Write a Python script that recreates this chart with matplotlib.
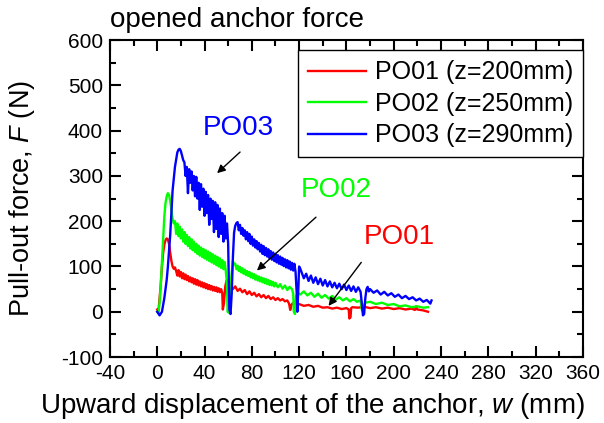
import matplotlib
matplotlib.use("Agg")
from matplotlib import pyplot as plt
from matplotlib.ticker import MultipleLocator

plt.rcParams['font.family'] = ['Liberation Sans', 'DejaVu Sans']
plt.rcParams['mathtext.fontset'] = 'custom'
plt.rcParams['mathtext.it'] = 'Liberation Sans:italic'
plt.rcParams['mathtext.rm'] = 'Liberation Sans'
plt.rcParams['axes.unicode_minus'] = False

# PO01 (z=200mm)
po01_w = [0, 1, 2, 3, 4, 5, 6, 7, 8, 9, 10, 11, 12, 13, 14, 15,
          16, 17, 18, 19, 20, 21, 22, 23, 24, 25, 26, 27, 28, 29, 30, 31, 32, 33, 34, 35,
          36, 37, 38, 39, 40, 41, 42, 43, 44, 45, 46, 47, 48, 49, 50, 51, 52, 53, 54, 55,
          55.5, 56.5, 57.5, 58.5, 60, 61,
          62, 64, 66, 68, 70, 72, 74, 76, 78, 80, 82, 84, 86, 88, 90, 92, 94, 96, 98, 100,
          102, 104, 106, 108, 110, 111.5, 112.5, 113.5, 115, 117,
          120, 124, 128, 132, 136, 140, 144, 148, 152, 156, 160, 162, 162.5, 163.5, 164, 165,
          170, 175, 180, 185, 190, 195, 200, 205, 210, 215, 218, 219, 220, 225, 229]
po01_f = [5, 0, 30, 60, 100, 130, 148, 158, 162, 160, 150, 130, 112, 100, 95, 98,
          90, 80, 92, 78, 88, 74, 85, 72, 82, 70, 79, 67, 76, 65, 74, 62, 72, 60, 70, 58,
          67, 56, 65, 54, 63, 52, 61, 50, 59, 49, 57, 47, 55, 46, 54, 44, 52, 43, 50, 42,
          5, 20, 55, 68, 70, 62,
          58, 50, 56, 46, 51, 43, 48, 39, 45, 37, 42, 34, 39, 32, 37, 30, 35, 28, 32, 26,
          30, 25, 28, 23, 25, 18, 4, 15, 20, 16,
          17, 13, 15, 11, 13, 9, 10, 7, 9, 6, 8, 5, -15, -12, 8, 10,
          9, 11, 8, 10, 7, 9, 6, 8, 5, 7, 4, 12, 5, 3, 0]

# PO02 (z=250mm)
po02_w = [0, 1, 2, 3, 4, 5, 6, 7, 8, 9, 10, 11, 12, 13, 14,
          15, 16, 17, 18, 19, 20, 21, 22, 23, 24, 25, 26, 27, 28, 29, 30, 31, 32, 33, 34,
          35, 36, 37, 38, 39, 40, 41, 42, 43, 44, 45, 46, 47, 48, 49, 50, 51, 52, 53, 54,
          55, 56, 57, 58, 59, 59.5, 60.5, 62, 64, 65,
          66, 67, 68, 69, 70, 71, 72, 73, 74, 75, 76, 77, 78, 79, 80, 81, 82, 83, 84, 85,
          86, 87, 88, 89, 90, 91, 92, 93, 94, 95, 96, 97, 98, 99, 100,
          102, 104, 106, 108, 110, 112, 114, 115, 115.5, 116.5, 117.5, 119,
          121, 124, 127, 130, 133, 136, 139, 142, 145, 148, 151, 154, 157, 160, 163, 166,
          169, 172, 173, 174, 175, 176,
          180, 185, 190, 195, 200, 205, 210, 215, 220, 225, 229]
po02_f = [0, -3, 20, 60, 110, 160, 210, 240, 255, 262, 258, 245, 225, 205, 195,
          200, 172, 195, 167, 188, 162, 182, 155, 176, 150, 170, 145, 165, 140, 160, 136, 155, 132, 150, 128,
          146, 124, 142, 121, 139, 118, 136, 115, 133, 112, 130, 109, 127, 106, 124, 103, 121, 100, 118, 97,
          114, 94, 110, 90, 60, 0, -2, 60, 112, 105,
          106, 94, 102, 90, 99, 87, 96, 84, 93, 81, 90, 79, 88, 76, 85, 74, 83, 71, 80, 69,
          78, 67, 76, 65, 74, 63, 72, 61, 70, 59, 68, 58, 66, 56, 64,
          54, 61, 51, 58, 48, 55, 50, 40, 0, -5, 35, 42,
          38, 45, 36, 42, 33, 40, 31, 37, 29, 35, 27, 32, 25, 30, 23, 28,
          22, 25, 5, 0, 15, 20,
          22, 17, 20, 15, 17, 12, 14, 10, 12, 9, 10]

# PO03 (z=290mm)
po03_w = [0, 2, 4, 6, 8, 9, 11, 13, 15, 17, 18, 19, 20, 21, 22,
          23, 24, 25, 26, 27, 28, 29, 30, 31, 32, 33, 34, 35, 36, 37, 38, 39, 40, 41, 42,
          43, 44, 45, 46, 47, 48, 49, 50, 51, 52, 53, 54, 55, 56, 57, 58, 59, 60,
          60.5, 61, 62, 63, 64, 65, 66, 67,
          68, 69, 70, 71, 72, 73, 74, 75, 76, 77, 78, 79, 80, 81, 82, 83, 84, 85, 86, 87,
          88, 89, 90, 91, 92, 93, 94, 95, 96, 97, 98, 99, 100, 101, 102, 103, 104, 105,
          106, 107, 108, 109, 110, 111, 112, 113, 114, 115, 116, 117,
          118, 118.5, 119.5, 120, 121,
          122, 124, 126, 128, 130, 132, 134, 136, 138, 140, 142, 144, 146, 148, 150, 152,
          154, 156, 158, 160, 162, 164, 166, 168, 170, 172, 173, 174, 175, 176, 177, 178, 179,
          180, 183, 186, 189, 192, 195, 198, 201, 204, 207, 210, 213, 216, 219, 222, 225,
          228, 231, 232]
po03_f = [0, -8, 0, 30, 70, 99, 170, 268, 320, 352, 358, 360, 355, 345, 335,
          330, 300, 320, 262, 315, 285, 310, 268, 300, 255, 298, 250, 285, 225, 282, 232, 272, 212, 265, 218,
          258, 192, 250, 205, 245, 176, 242, 183, 236, 165, 228, 172, 218, 155, 212, 162, 195, 150,
          80, 5, -5, 40, 120, 175, 190, 196,
          198, 180, 192, 172, 185, 168, 180, 160, 176, 156, 172, 150, 166, 146, 160, 142, 156, 138, 152, 133,
          148, 128, 145, 125, 141, 122, 138, 118, 134, 115, 131, 112, 128, 109, 125, 106, 122, 104,
          119, 101, 116, 98, 114, 96, 111, 93, 108, 91, 106, 88,
          40, 0, 60, 100, 95,
          88, 74, 84, 68, 80, 64, 76, 61, 73, 58, 70, 56, 67, 54, 64, 52,
          62, 50, 60, 48, 58, 46, 56, 44, 54, 44, 20, -8, -5, 30, 50, 55, 45,
          50, 42, 47, 38, 44, 36, 41, 33, 38, 30, 35, 28, 32, 25, 29, 22,
          26, 18, 25]

fig = plt.figure(figsize=(6.04, 4.23), dpi=100)
ax = fig.add_axes([0.182, 0.156, 0.783, 0.749])

ax.plot(po01_w, po01_f, color='#ff0000', lw=1.7, label='PO01 (z=200mm)')
ax.plot(po02_w, po02_f, color='#00ff00', lw=1.7, label='PO02 (z=250mm)')
ax.plot(po03_w, po03_f, color='#0000ff', lw=1.7, label='PO03 (z=290mm)')

ax.set_xlim(-40, 360)
ax.set_ylim(-100, 600)
ax.xaxis.set_major_locator(MultipleLocator(40))
ax.xaxis.set_minor_locator(MultipleLocator(20))
ax.yaxis.set_major_locator(MultipleLocator(100))
ax.yaxis.set_minor_locator(MultipleLocator(50))
ax.tick_params(which='both', direction='in', top=True, right=True, width=1.5, labelsize=15)
ax.tick_params(which='major', length=8, pad=5)
ax.tick_params(which='minor', length=4)
for s in ax.spines.values():
    s.set_linewidth(1.5)

ax.set_xlabel('Upward displacement of the anchor, $w$ (mm)', fontsize=20)
ax.xaxis.set_label_coords(0.428, -0.108)
ax.set_ylabel('Pull-out force, $F$ (N)', fontsize=19.5)
ax.yaxis.set_label_coords(-0.155, 0.5)
fig.text(0.182, 0.953, 'opened anchor force', fontsize=20, va='center', ha='left')

leg = ax.legend(loc='upper right', bbox_to_anchor=(1.0, 0.968), borderaxespad=0,
                fontsize=18, fancybox=False, framealpha=1, edgecolor='black',
                handlelength=2.3, handletextpad=0.35, labelspacing=0.3, borderpad=0.4)
leg.get_frame().set_linewidth(1.0)

ax.annotate('', xy=(48.9, 302), xytext=(71.8, 357),
            arrowprops=dict(arrowstyle='-|>', color='black', lw=1, mutation_scale=12))
ax.annotate('', xy=(82.6, 87), xytext=(136, 213),
            arrowprops=dict(arrowstyle='-|>', color='black', lw=1, mutation_scale=12))
ax.annotate('', xy=(143.5, 8), xytext=(174, 114),
            arrowprops=dict(arrowstyle='-|>', color='black', lw=1, mutation_scale=12))
ax.text(69, 405, 'PO03', color='#0000ff', fontsize=20, ha='center', va='center')
ax.text(151, 270, 'PO02', color='#00ff00', fontsize=20, ha='center', va='center')
ax.text(205, 166, 'PO01', color='#ff0000', fontsize=20, ha='center', va='center')

fig.savefig('out.png', dpi=100)
